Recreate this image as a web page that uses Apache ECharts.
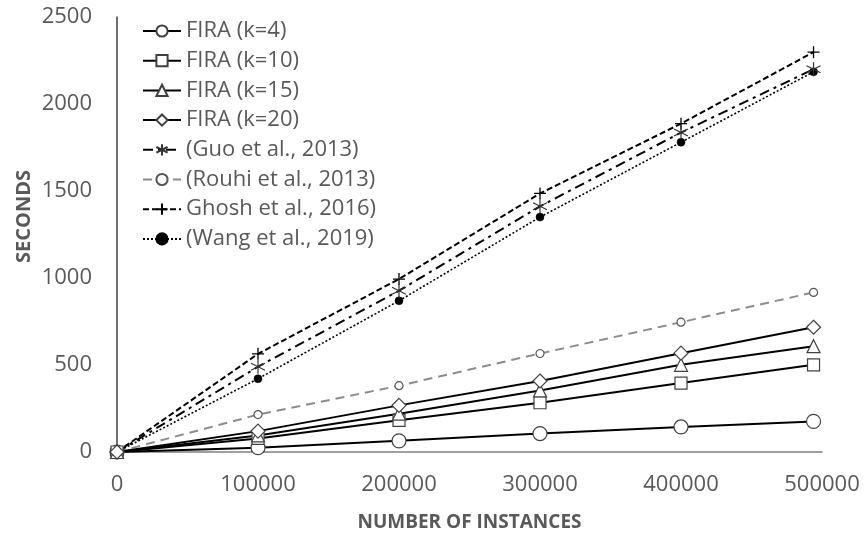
<!DOCTYPE html>
<html>
<head>
<meta charset="utf-8">
<script src="https://cdn.jsdelivr.net/npm/echarts@6/dist/echarts.min.js"></script>
<style>
  html, body { margin: 0; padding: 0; background: #fff; }
  #chart { width: 867px; height: 537px; }
</style>
</head>
<body>
<div id="chart"></div>
<script>
// Number of instances processed (x) and running time in seconds (y)
const instances = [0, 100000, 200000, 300000, 400000, 494000];
const xTicks = [0, 100000, 200000, 300000, 400000, 500000];
const yTicks = [0, 500, 1000, 1500, 2000, 2500];

const firaK4  = [0, 25, 64, 106, 144, 176];
const firaK10 = [0, 78, 182, 283, 396, 501];
const firaK15 = [0, 95, 220, 354, 501, 608];
const firaK20 = [0, 120, 268, 408, 568, 717];
const guo2013   = [0, 490, 927, 1412, 1836, 2200];
const rouhi2013 = [0, 215, 381, 566, 746, 917];
const ghosh2016 = [0, 564, 994, 1486, 1887, 2298];
const wang2019  = [0, 421, 869, 1350, 1780, 2185];

const seriesNames = [
  'FIRA (k=4)', 'FIRA (k=10)', 'FIRA (k=15)', 'FIRA (k=20)',
  '(Guo et al., 2013)', '(Rouhi et al., 2013)', 'Ghosh et al., 2016)', '(Wang et al., 2019)'
];

const pairs = ys => instances.map((x, i) => [x, ys[i]]);

const TEXT = '#595959';
const FONT = '"Open Sans", "Noto Sans", sans-serif';

const starPath = 'path://M10,0L10,20M1.34,5L18.66,15M1.34,15L18.66,5';
const plusPath = 'path://M10,0L10,20M0,10L20,10';

function mk(name, ys, symbol, size, line, item) {
  return {
    name: name,
    type: 'line',
    data: pairs(ys),
    symbol: symbol,
    symbolSize: size,
    showAllSymbol: true,
    lineStyle: Object.assign({ color: '#000', width: 2 }, line),
    itemStyle: Object.assign({ color: '#fff', borderColor: '#404040', borderWidth: 1.2 }, item),
    emphasis: { disabled: true },
    animation: false
  };
}

const series = [
  mk(seriesNames[7], wang2019, 'circle', 8, { type: [2, 2], width: 1.6 }, { color: '#000', borderColor: '#000', borderWidth: 0.5 }),
  mk(seriesNames[6], ghosh2016, plusPath, 12, { type: [6, 3], width: 2 }, { color: '#000', borderColor: '#000', borderWidth: 1.3 }),
  mk(seriesNames[4], guo2013, starPath, 14, { type: [10, 5, 3, 5], width: 2 }, { color: '#000', borderColor: '#333', borderWidth: 1.2 }),
  mk(seriesNames[5], rouhi2013, 'circle', 8, { type: [9, 6], width: 2, color: '#8c8c8c' }, { color: '#fff', borderColor: '#555', borderWidth: 1.2 }),
  mk(seriesNames[0], firaK4, 'circle', 14, {}, {}),
  mk(seriesNames[1], firaK10, 'rect', 12, {}, {}),
  mk(seriesNames[2], firaK15, 'triangle', 13, {}, {}),
  mk(seriesNames[3], firaK20, 'diamond', 14, {}, {})
];

const plain = v => String(v);

const chart = echarts.init(document.getElementById('chart'), null, { renderer: 'canvas' });
chart.setOption({
  animation: false,
  backgroundColor: '#fff',
  textStyle: { fontFamily: FONT },
  grid: { left: 117, right: 45, top: 17, bottom: 83, containLabel: false },
  legend: {
    data: seriesNames,
    orient: 'vertical',
    left: 137,
    top: 15,
    itemWidth: 38,
    itemHeight: 14,
    itemGap: 7.7,
    textStyle: { color: TEXT, fontSize: 22, fontFamily: FONT },
    selectedMode: false
  },
  xAxis: {
    type: 'value',
    min: xTicks[0],
    max: xTicks[xTicks.length - 1],
    interval: xTicks[1] - xTicks[0],
    name: 'NUMBER OF INSTANCES',
    nameLocation: 'middle',
    nameGap: 61,
    nameTextStyle: { color: TEXT, fontSize: 19, fontWeight: 'bold', fontFamily: FONT },
    axisLine: { show: true, lineStyle: { color: '#808080', width: 1.5 } },
    axisTick: { show: false },
    splitLine: { show: false },
    axisLabel: { color: TEXT, fontSize: 22, margin: 22, fontFamily: FONT, formatter: plain }
  },
  yAxis: {
    type: 'value',
    min: yTicks[0],
    max: yTicks[yTicks.length - 1],
    interval: yTicks[1] - yTicks[0],
    name: 'SECONDS',
    nameLocation: 'middle',
    nameGap: 83,
    nameMoveOverlap: false,
    nameTextStyle: { color: TEXT, fontSize: 20, fontWeight: 'bold', fontFamily: FONT, padding: [0, 0, 0, 36] },
    axisLine: { show: true, lineStyle: { color: '#404040', width: 1.5 } },
    axisTick: { show: false },
    splitLine: { show: false },
    axisLabel: { color: TEXT, fontSize: 22, margin: 25, fontFamily: FONT, formatter: plain }
  },
  series: series
});
</script>
</body>
</html>
